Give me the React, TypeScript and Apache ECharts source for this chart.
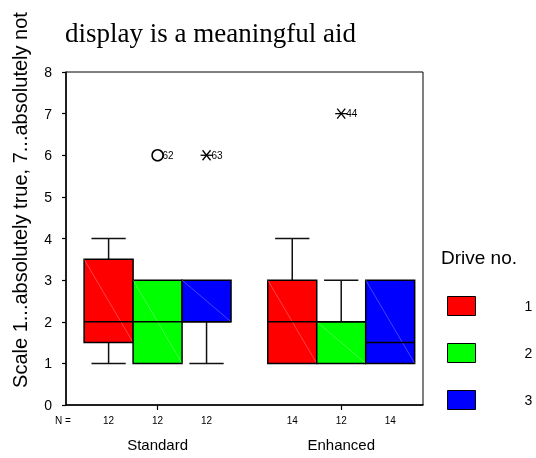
import React, { useEffect, useRef } from 'react';
import * as echarts from 'echarts';

// ---- data ----
const groups = ['Standard', 'Enhanced'];
const drives = ['1', '2', '3'];
const driveColors = ['#ff0000', '#00ff00', '#0000ff'];
// [min, q1, median, q3, max] for [Standard, Enhanced]
const drive1Stats = [[1, 1.5, 2, 3.5, 4], [1, 1, 2, 3, 4]];
const drive2Stats = [[1, 1, 2, 3, 3], [1, 1, 2, 2, 3]];
const drive3Stats = [[1, 2, 2, 3, 3], [1, 1, 1.5, 3, 3]];
const standardN = [12, 12, 12];
const enhancedN = [14, 12, 14];
const outlierGroup = [0, 0, 1];
const outlierDrive = [1, 2, 1];
const outlierValue = [6, 6, 7];
const outlierCase = ['62', '63', '44'];
const outlierKind = ['circle', 'star', 'star'];
const yTickMin = 0;
const yTickMax = 8;
const yTickStep = 1;

// ---- layout ----
const GROUP_CENTERS = [0, 3.75];
const X_MIN = -1.87;
const X_MAX = 5.42;
const boxCenter = (g: number, d: number) => GROUP_CENTERS[g] + (d - 1);
const allStats = [drive1Stats, drive2Stats, drive3Stats];
const groupN = [standardN, enhancedN];
const boxCenters: number[] = [];
const boxN: number[] = [];
groups.forEach((_, g) => drives.forEach((__, d) => { boxCenters.push(boxCenter(g, d)); boxN.push(groupN[g][d]); }));

const SANS = 'Liberation Sans, Arial, sans-serif';

export default function App() {
  const ref = useRef<HTMLDivElement>(null);
  useEffect(() => {
    const chart = echarts.init(ref.current!, null, { renderer: 'svg' });

    const driveSeries = drives.map((name, d) => ({
      type: 'custom',
      name,
      itemStyle: { color: driveColors[d], borderColor: '#000', borderWidth: 1 },
      xAxisIndex: 0,
      yAxisIndex: 0,
      encode: { x: 0, y: [1, 2, 3, 4, 5] },
      data: allStats[d].map((s, g) => [g, ...s]),
      renderItem: (params: any, api: any) => {
        const g = api.value(0);
        const xc = boxCenter(g, d);
        const mn = api.value(1), q1 = api.value(2), md = api.value(3), q3 = api.value(4), mx = api.value(5);
        const tl = api.coord([xc - 0.5, q3]);
        const br = api.coord([xc + 0.5, q1]);
        const cx = api.coord([xc, 0])[0];
        const yMin = api.coord([xc, mn])[1];
        const yMax = api.coord([xc, mx])[1];
        const yMed = api.coord([xc, md])[1];
        const capHalf = (br[0] - tl[0]) * 0.35;
        const ws = { stroke: '#111', lineWidth: 1.5 };
        const children: any[] = [];
        if (mx > q3) {
          children.push({ type: 'line', shape: { x1: cx, y1: yMax, x2: cx, y2: tl[1] }, style: ws });
          children.push({ type: 'line', shape: { x1: cx - capHalf, y1: yMax, x2: cx + capHalf, y2: yMax }, style: ws });
        }
        if (mn < q1) {
          children.push({ type: 'line', shape: { x1: cx, y1: br[1], x2: cx, y2: yMin }, style: ws });
          children.push({ type: 'line', shape: { x1: cx - capHalf, y1: yMin, x2: cx + capHalf, y2: yMin }, style: ws });
        }
        children.push({
          type: 'rect',
          shape: { x: tl[0], y: tl[1], width: br[0] - tl[0], height: br[1] - tl[1] },
          style: { fill: driveColors[d], stroke: '#000', lineWidth: 1.5 },
        });
        children.push({
          type: 'line',
          shape: { x1: tl[0], y1: tl[1], x2: br[0], y2: br[1] },
          style: { stroke: 'rgba(255,255,255,0.45)', lineWidth: 0.6 },
        });
        children.push({
          type: 'line',
          shape: { x1: tl[0], y1: yMed, x2: br[0], y2: yMed },
          style: { stroke: '#000', lineWidth: 1.5 },
        });
        return { type: 'group', children };
      },
    }));

    const outlierSeries = {
      type: 'custom',
      name: 'outliers',
      xAxisIndex: 0,
      yAxisIndex: 0,
      encode: { x: 0, y: 2 },
      data: outlierValue.map((v, i) => [outlierGroup[i], outlierDrive[i], v, i]),
      renderItem: (params: any, api: any) => {
        const g = api.value(0), d = api.value(1), v = api.value(2), i = api.value(3);
        const p = api.coord([boxCenter(g, d), v]);
        const st = { stroke: '#000', lineWidth: 1.3, fill: null };
        const children: any[] = [];
        if (outlierKind[i] === 'circle') {
          children.push({ type: 'circle', shape: { cx: p[0], cy: p[1], r: 5.5 }, style: { stroke: '#000', lineWidth: 1.5, fill: 'none' } });
        } else {
          children.push({ type: 'line', shape: { x1: p[0] - 6, y1: p[1], x2: p[0] + 6, y2: p[1] }, style: st });
          children.push({ type: 'line', shape: { x1: p[0] - 4, y1: p[1] - 5, x2: p[0] + 4, y2: p[1] + 5 }, style: st });
          children.push({ type: 'line', shape: { x1: p[0] - 4, y1: p[1] + 5, x2: p[0] + 4, y2: p[1] - 5 }, style: st });
        }
        children.push({
          type: 'text',
          style: { text: outlierCase[i], x: p[0] + 5, y: p[1], fill: '#000', font: `10px ${SANS}`, verticalAlign: 'middle', align: 'left' },
        });
        return { type: 'group', children };
      },
    };

    const option: any = {
      animation: false,
      title: {
        text: 'display is a meaningful aid',
        left: 65,
        top: 19,
        padding: 0,
        textStyle: { fontFamily: 'Liberation Serif, Times New Roman, serif', fontSize: 27, fontWeight: 'normal', color: '#000' },
      },
      grid: { left: 66, top: 72, width: 357, height: 333, show: true, borderColor: '#000', borderWidth: 1, backgroundColor: 'transparent' },
      legend: {
        data: drives,
        orient: 'vertical',
        left: 447,
        top: 296,
        padding: 0,
        itemWidth: 28,
        itemHeight: 19,
        itemGap: 27,
        icon: 'rect',
        selectedMode: false,
        itemStyle: { borderColor: '#000', borderWidth: 1 },
        textStyle: { fontFamily: SANS, fontSize: 14, color: '#000', padding: [0, 0, 0, 44] },
      },
      xAxis: [
        {
          type: 'value',
          min: X_MIN,
          max: X_MAX,
          position: 'bottom',
          splitLine: { show: false },
          axisLine: { show: true, onZero: false, lineStyle: { color: '#000', width: 1.5 } },
          axisTick: { show: true, customValues: GROUP_CENTERS, length: 5, lineStyle: { color: '#000', width: 1.2 } },
          axisLabel: {
            show: true,
            customValues: boxCenters,
            margin: 10,
            fontFamily: SANS,
            fontSize: 10,
            color: '#000',
            formatter: (val: number) => {
              const i = boxCenters.findIndex((c) => Math.abs(c - val) < 1e-6);
              return i >= 0 ? String(boxN[i]) : '';
            },
          },
        },
        {
          type: 'value',
          min: X_MIN,
          max: X_MAX,
          position: 'bottom',
          splitLine: { show: false },
          axisLine: { show: false },
          axisTick: { show: false },
          axisLabel: {
            show: true,
            customValues: GROUP_CENTERS,
            margin: 32,
            fontFamily: SANS,
            fontSize: 15,
            color: '#000',
            formatter: (val: number) => {
              const i = GROUP_CENTERS.findIndex((c) => Math.abs(c - val) < 1e-6);
              return i >= 0 ? groups[i] : '';
            },
          },
        },
      ],
      yAxis: {
        type: 'value',
        min: yTickMin,
        max: yTickMax,
        interval: yTickStep,
        position: 'left',
        splitLine: { show: false },
        axisLine: { show: true, onZero: false, lineStyle: { color: '#000', width: 1.5 } },
        axisTick: { show: true, length: 4, lineStyle: { color: '#000', width: 1.2 } },
        axisLabel: { fontFamily: SANS, fontSize: 14, color: '#000', margin: 14 },
      },
      graphic: [
        {
          type: 'text',
          x: 20,
          y: 200,
          rotation: Math.PI / 2,
          style: {
            text: 'Scale 1...absolutely true, 7...absolutely not',
            font: `20px ${SANS}`,
            fill: '#000',
            align: 'center',
            verticalAlign: 'middle',
          },
        },
        {
          type: 'text',
          x: 441,
          y: 248,
          style: { text: 'Drive no.', font: `19px ${SANS}`, fill: '#000', align: 'left', verticalAlign: 'top' },
        },
        {
          type: 'text',
          x: 55,
          y: 420,
          style: { text: 'N =', font: `10px ${SANS}`, fill: '#000', align: 'left', verticalAlign: 'middle' },
        },
      ],
      series: [...driveSeries, outlierSeries],
    };
    chart.setOption(option);
    return () => chart.dispose();
  }, []);
  return <div ref={ref} style={{ position: 'fixed', left: 0, top: 0, width: 536, height: 458 }} />;
}
